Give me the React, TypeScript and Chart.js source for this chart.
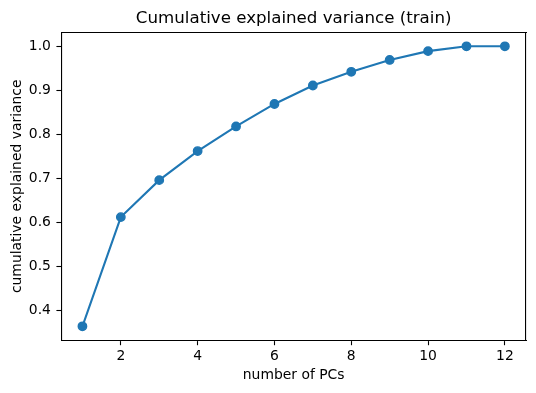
import React, { useEffect, useRef } from "react";
import { Chart, registerables } from "chart.js";

Chart.register(...registerables);

const PCS: number[] = [1, 2, 3, 4, 5, 6, 7, 8, 9, 10, 11, 12];
const CUM_VAR: number[] = [0.364, 0.612, 0.696, 0.762, 0.818, 0.869, 0.911, 0.942, 0.969, 0.989, 1.0, 1.0];
const X_TICKS: number[] = [2, 4, 6, 8, 10, 12];
const Y_TICKS: number[] = [0.4, 0.5, 0.6, 0.7, 0.8, 0.9, 1.0];

const TITLE = "Cumulative explained variance (train)";
const X_LABEL = "number of PCs";
const Y_LABEL = "cumulative explained variance";

const FONT = "'DejaVu Sans', sans-serif";
const BLUE = "#1f77b4";

export default function App() {
  const ref = useRef<HTMLCanvasElement | null>(null);

  useEffect(() => {
    if (!ref.current) return;
    const xMin = 1 - (12 - 1) * 0.05;
    const xMax = 12 + (12 - 1) * 0.05;
    const lo = Math.min(...CUM_VAR);
    const hi = Math.max(...CUM_VAR);
    const yMin = lo - (hi - lo) * 0.05;
    const yMax = hi + (hi - lo) * 0.05;

    const tickFont = { family: FONT, size: 13.9, lineHeight: 1.2 };

    const chart = new Chart(ref.current, {
      type: "line",
      data: {
        datasets: [
          {
            data: PCS.map((x, i) => ({ x, y: CUM_VAR[i] })),
            borderColor: BLUE,
            backgroundColor: BLUE,
            borderWidth: 2.08,
            pointRadius: 4.2,
            pointBorderWidth: 1.4,
            pointBackgroundColor: BLUE,
            pointBorderColor: BLUE,
            fill: false,
            tension: 0,
          },
        ],
      },
      options: {
        animation: false,
        responsive: false,
        devicePixelRatio: 1,
        layout: { padding: { left: 0, right: 10, top: 0, bottom: 0 } },
        plugins: {
          legend: { display: false },
          tooltip: { enabled: false },
          title: {
            display: true,
            text: TITLE,
            fullSize: false,
            color: "#000",
            font: { family: FONT, size: 16.67, weight: "normal", lineHeight: 1.2 },
            padding: { top: 8.2, bottom: 4.1 },
          },
        },
        scales: {
          x: {
            type: "linear",
            position: "bottom",
            min: xMin,
            max: xMax,
            afterBuildTicks: (s: any) => {
              s.ticks = X_TICKS.map((v) => ({ value: v }));
            },
            afterFit: (s: any) => {
              s.height = 52.7;
            },
            ticks: {
              color: "#000",
              font: tickFont,
              padding: 2.4,
              maxRotation: 0,
              autoSkip: false,
              callback: (v: any) => String(v),
            },
            grid: {
              drawOnChartArea: false,
              drawTicks: true,
              tickLength: 4.9,
              tickColor: "#000",
              tickWidth: 1.1,
            },
            border: { display: true, color: "#000", width: 1.1 },
            title: {
              display: true,
              text: X_LABEL,
              color: "#000",
              font: tickFont,
              padding: { top: 0, bottom: 9.5 },
            },
          },
          y: {
            type: "linear",
            position: "left",
            min: yMin,
            max: yMax,
            afterBuildTicks: (s: any) => {
              s.ticks = Y_TICKS.map((v) => ({ value: v }));
            },
            afterFit: (s: any) => {
              s.width = 61.3;
            },
            ticks: {
              color: "#000",
              font: tickFont,
              padding: 5.5,
              autoSkip: false,
              callback: (v: any) => Number(v).toFixed(1),
            },
            grid: {
              drawOnChartArea: false,
              drawTicks: true,
              tickLength: 4.9,
              tickColor: "#000",
              tickWidth: 1.1,
            },
            border: { display: true, color: "#000", width: 1.1 },
            title: {
              display: true,
              text: Y_LABEL,
              color: "#000",
              font: tickFont,
              padding: { top: 8.9, bottom: 0 },
            },
          },
          xTop: {
            type: "linear",
            position: "top",
            min: xMin,
            max: xMax,
            afterFit: (s: any) => {
              s.height = 0;
            },
            ticks: { display: false },
            grid: { display: false, drawOnChartArea: false, drawTicks: false },
            border: { display: true, color: "#000", width: 1.1 },
          },
          yRight: {
            type: "linear",
            position: "right",
            min: yMin,
            max: yMax,
            afterFit: (s: any) => {
              s.width = 0;
            },
            ticks: { display: false },
            grid: { display: false, drawOnChartArea: false, drawTicks: false },
            border: { display: true, color: "#000", width: 1.1 },
          },
        },
      },
    } as any);

    return () => chart.destroy();
  }, []);

  return (
    <div style={{ position: "absolute", left: 0, top: 0, width: 536, height: 393, background: "#fff" }}>
      <canvas ref={ref} width={536} height={393} style={{ display: "block", width: 536, height: 393 }} />
    </div>
  );
}
